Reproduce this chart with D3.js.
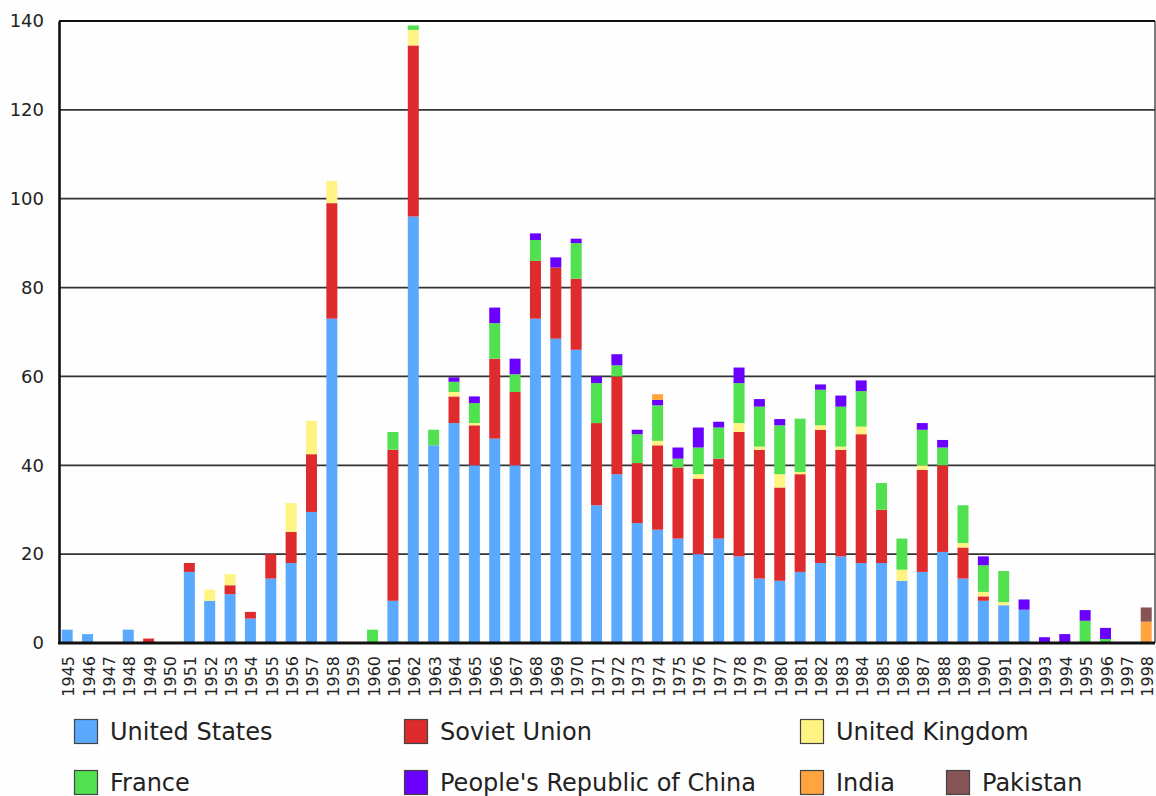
<!DOCTYPE html>
<html>
<head>
<meta charset="utf-8">
<script src="https://cdn.jsdelivr.net/npm/d3@7/dist/d3.min.js"></script>
<style>
  html, body { margin: 0; padding: 0; background: #fefefe; }
  svg { display: block; font-family: "DejaVu Sans", sans-serif; }
</style>
</head>
<body>
<svg id="chart" width="1156" height="796"></svg>
<script>
// Nuclear tests per year, 1945–1998, stacked by country
const years = d3.range(1945, 1999).map(String);

const unitedStates = [3, 2, 0, 3, 0, 0, 16, 9.5, 11, 5.5, 14.5, 18, 29.5, 73, 0, 0, 9.5, 96, 44.5, 49.5,
  40, 46, 40, 73, 68.5, 66, 31, 38, 27, 25.5, 23.5, 20, 23.5, 19.5, 14.5, 14, 16, 18, 19.5, 18,
  18, 14, 16, 20.5, 14.5, 9.5, 8.5, 7.5, 0, 0, 0, 0, 0, 0];
const sovietUnion = [0, 0, 0, 0, 1, 0, 2, 0, 2, 1.5, 5.5, 7, 13, 26, 0, 0, 34, 38.5, 0, 6,
  9, 18, 16.5, 13, 16, 16, 18.5, 22, 13.5, 19, 16, 17, 18, 28, 29, 21, 22, 30, 24, 29,
  12, 0, 23, 19.5, 7, 1, 0, 0, 0, 0, 0, 0, 0, 0];
const unitedKingdom = [0, 0, 0, 0, 0, 0, 0, 2.5, 2.5, 0, 0, 6.5, 7.5, 5, 0, 0, 0, 3.5, 0, 1,
  0.5, 0, 0, 0, 0, 0, 0, 0, 0, 1, 0, 1, 0, 2, 0.7, 3, 0.5, 1, 0.7, 1.7,
  0, 2.5, 1, 0, 1, 1, 0.7, 0, 0, 0, 0, 0, 0, 0];
const france = [0, 0, 0, 0, 0, 0, 0, 0, 0, 0, 0, 0, 0, 0, 0, 3, 4, 1, 3.5, 2.3,
  4.5, 8, 4, 4.7, 0, 8, 9, 2.5, 6.5, 8, 2, 6, 7, 9, 9, 11, 12, 8, 9, 8,
  6, 7, 8, 4, 8.5, 6, 7, 0, 0, 0, 5, 0.9, 0, 0];
const china = [0, 0, 0, 0, 0, 0, 0, 0, 0, 0, 0, 0, 0, 0, 0, 0, 0, 0, 0, 1,
  1.5, 3.5, 3.5, 1.5, 2.3, 1, 1.5, 2.5, 1, 1.2, 2.5, 4.5, 1.3, 3.5, 1.7, 1.4, 0, 1.2, 2.5, 2.4,
  0, 0, 1.5, 1.7, 0, 2, 0, 2.3, 1.3, 2, 2.4, 2.5, 0, 0];
const india = [0, 0, 0, 0, 0, 0, 0, 0, 0, 0, 0, 0, 0, 0, 0, 0, 0, 0, 0, 0,
  0, 0, 0, 0, 0, 0, 0, 0, 0, 1.3, 0, 0, 0, 0, 0, 0, 0, 0, 0, 0,
  0, 0, 0, 0, 0, 0, 0, 0, 0, 0, 0, 0, 0, 4.8];
const pakistan = [0, 0, 0, 0, 0, 0, 0, 0, 0, 0, 0, 0, 0, 0, 0, 0, 0, 0, 0, 0,
  0, 0, 0, 0, 0, 0, 0, 0, 0, 0, 0, 0, 0, 0, 0, 0, 0, 0, 0, 0,
  0, 0, 0, 0, 0, 0, 0, 0, 0, 0, 0, 0, 0, 3.2];

const countries = ["United States", "Soviet Union", "United Kingdom", "France",
  "People's Republic of China", "India", "Pakistan"];
const seriesValues = [unitedStates, sovietUnion, unitedKingdom, france, china, india, pakistan];
const colors = ["#5aa9fe", "#dd2b2e", "#fff384", "#50e050", "#6a00ff", "#ffa43e", "#875456"];
const yTicks = [0, 20, 40, 60, 80, 100, 120, 140];

// Tabular form for d3.stack
const table = years.map((yr, i) => {
  const row = { year: yr };
  countries.forEach((c, k) => { row[c] = seriesValues[k][i]; });
  return row;
});

const svg = d3.select("#chart");
const plot = { left: 59, right: 1155, top: 21, bottom: 643 };

const x = d3.scaleBand()
  .domain(years)
  .range([57, 1156.4])
  .paddingInner(0.46)
  .paddingOuter(0.23);

const y = d3.scaleLinear()
  .domain([0, 140])
  .range([plot.bottom, plot.top]);

// Horizontal gridlines
svg.append("g")
  .selectAll("line")
  .data(yTicks.filter(t => t > 0 && t < 140))
  .join("line")
  .attr("x1", plot.left)
  .attr("x2", plot.right)
  .attr("y1", d => y(d))
  .attr("y2", d => y(d))
  .attr("stroke", "#333")
  .attr("stroke-width", 1.8);

// Stacked bars
const stacked = d3.stack().keys(countries)(table);
svg.append("g")
  .selectAll("g")
  .data(stacked)
  .join("g")
  .attr("fill", (d, i) => colors[i])
  .selectAll("rect")
  .data(d => d.filter(s => s[1] - s[0] > 0))
  .join("rect")
  .attr("x", d => x(d.data.year))
  .attr("width", x.bandwidth())
  .attr("y", d => y(d[1]))
  .attr("height", d => y(d[0]) - y(d[1]));

// Frame: top and right border, left axis and baseline
svg.append("line")
  .attr("x1", plot.left).attr("x2", plot.right)
  .attr("y1", plot.top).attr("y2", plot.top)
  .attr("stroke", "#111").attr("stroke-width", 2.2);
svg.append("line")
  .attr("x1", plot.right).attr("x2", plot.right)
  .attr("y1", plot.top).attr("y2", plot.bottom)
  .attr("stroke", "#222").attr("stroke-width", 1.2);

// Y axis
const yAxis = d3.axisLeft(y).tickValues(yTicks).tickSize(0).tickPadding(15);
const yg = svg.append("g")
  .attr("transform", `translate(${plot.left},0)`)
  .call(yAxis);
yg.select(".domain").attr("stroke", "#111").attr("stroke-width", 2.6);
yg.selectAll("text")
  .attr("font-size", 18)
  .attr("font-family", "DejaVu Sans, sans-serif")
  .attr("fill", "#222");

// X axis (baseline + rotated year labels)
const xAxis = d3.axisBottom(x).tickSize(0).tickPadding(0);
const xg = svg.append("g")
  .attr("transform", `translate(0,${plot.bottom})`)
  .call(xAxis);
xg.select(".domain")
  .attr("d", `M${plot.left - 1},0H${plot.right}`)
  .attr("stroke", "#111").attr("stroke-width", 3);
xg.selectAll("text")
  .attr("font-size", 16)
  .attr("font-family", "DejaVu Sans, sans-serif")
  .attr("fill", "#222")
  .attr("text-anchor", "end")
  .attr("dy", null)
  .attr("y", 0)
  .attr("transform", "translate(7,13) rotate(-90)");

// Legend
const legendPos = [
  [74, 719], [404, 719], [800, 719],
  [74, 770], [404, 770], [800, 770], [946, 770]
];
const legend = svg.append("g")
  .selectAll("g")
  .data(countries)
  .join("g")
  .attr("transform", (d, i) => `translate(${legendPos[i][0]},${legendPos[i][1]})`);
legend.append("rect")
  .attr("x", 0.5).attr("y", 0.5)
  .attr("width", 23).attr("height", 24)
  .attr("fill", (d, i) => colors[i])
  .attr("stroke", "#444").attr("stroke-width", 1.2);
legend.append("text")
  .attr("x", 36)
  .attr("y", 21)
  .attr("font-size", 24)
  .attr("fill", "#222")
  .text(d => d);
</script>
</body>
</html>
